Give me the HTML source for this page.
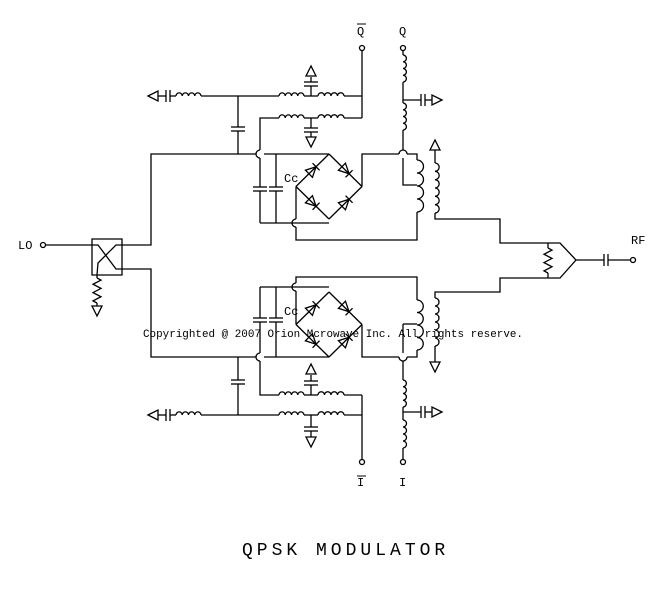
<!DOCTYPE html>
<html><head><meta charset="utf-8"><style>
html,body{margin:0;padding:0;background:#fff;width:653px;height:598px;overflow:hidden}
svg{display:block}
text{font-family:"Liberation Mono",monospace;fill:#000}
</style></head><body>
<svg id="s" width="653" height="598" viewBox="0 0 653 598" xmlns="http://www.w3.org/2000/svg">
<g id="w" stroke="#000" stroke-width="1.3" fill="none"></g>
<text x="357" y="35" font-size="12">Q</text>
<line x1="357" y1="24" x2="366" y2="24" stroke="#000" stroke-width="1"/>
<text x="399" y="35" font-size="12">Q</text>
<text x="357" y="486" font-size="12">I</text>
<line x1="357" y1="476" x2="366" y2="476" stroke="#000" stroke-width="1"/>
<text x="399" y="486" font-size="12">I</text>
<text x="18" y="249" font-size="12">LO</text>
<text x="631" y="244" font-size="12">RF</text>
<text x="284" y="182" font-size="12">Cc</text>
<text x="284" y="315" font-size="12">Cc</text>
<text x="143" y="337" font-size="11" textLength="380" lengthAdjust="spacingAndGlyphs">Copyrighted @ 2007 Orion Mcrowave Inc. All rights reserve.</text>
<text x="242" y="555" font-size="18" letter-spacing="4">QPSK MODULATOR</text>
</svg>
<script>
var g=document.getElementById('w'),NS='http://www.w3.org/2000/svg';
function P(d){var p=document.createElementNS(NS,'path');p.setAttribute('d',d);g.appendChild(p);}
function L(){var a=arguments,d='M'+a[0]+' '+a[1];for(var i=2;i<a.length;i+=2)d+=' L'+a[i]+' '+a[i+1];P(d);}
function C(x,y){var c=document.createElementNS(NS,'circle');c.setAttribute('cx',x);c.setAttribute('cy',y);c.setAttribute('r',2.5);g.appendChild(c);}
function indH(x1,x2,y){var n=4,w=(x2-x1)/n,d='M'+x1+' '+y;for(var i=0;i<n;i++)d+=' a'+w/2+' '+w/2+' 0 0 1 '+w+' 0';P(d);}
function indV(x,y1,y2,n){n=n||4;var h=(y2-y1)/n,d='M'+x+' '+y1;for(var i=0;i<n;i++)d+=' a'+h/2+' '+h/2+' 0 0 1 0 '+h;P(d);}
function capOnH(x,y){L(x-2,y-6,x-2,y+6);L(x+2,y-6,x+2,y+6);}
function capOnV(x,y){L(x-7,y-2,x+7,y-2);L(x-7,y+2,x+7,y+2);}
function gnd(x,y,dir){
 if(dir=='l')P('M'+x+' '+y+' L'+(x+10)+' '+(y-5)+' L'+(x+10)+' '+(y+5)+' Z');
 if(dir=='r')P('M'+x+' '+y+' L'+(x-10)+' '+(y-5)+' L'+(x-10)+' '+(y+5)+' Z');
 if(dir=='u')P('M'+x+' '+y+' L'+(x-5)+' '+(y+10)+' L'+(x+5)+' '+(y+10)+' Z');
 if(dir=='d')P('M'+x+' '+y+' L'+(x-5)+' '+(y-10)+' L'+(x+5)+' '+(y-10)+' Z');
}
function hopV(x,y){P('M'+x+' '+(y-4)+' a4 4 0 0 0 0 8');}
function diode(x1,y1,x2,y2){var mx=(x1+x2)/2,my=(y1+y2)/2,dx=x2-x1,dy=y2-y1,l=Math.hypot(dx,dy),ux=dx/l,uy=dy/l,px=-uy,py=ux,s=5;
 L(x1,y1,x2,y2);
 var bx=mx-ux*s,by=my-uy*s,tx=mx+ux*s,ty=my+uy*s;
 P('M'+(bx+px*s)+' '+(by+py*s)+' L'+(bx-px*s)+' '+(by-py*s)+' L'+tx+' '+ty+' Z');
 L(tx+px*s,ty+py*s,tx-px*s,ty-py*s);}
function res(x,y1,y2){var n=6,h=(y2-y1)/n,d='M'+x+' '+y1;for(var i=0;i<n;i++)d+=' L'+(x+(i%2?-4:4))+' '+(y1+h*(i+0.5));d+=' L'+x+' '+y2;P(d);}

C(43,245);L(46,245,92,245);
P('M92 239 L122 239 L122 275 L92 275 Z');
L(92,245,98,245,116,269,122,269);L(122,245,116,245,98,263,97,275);
res(97,278,303);L(97,275,97,278);L(97,303,97,306);gnd(97,316,'d');
L(122,245,151,245,151,154,256,154);L(264,154,329,154);
L(122,269,151,269,151,357,256,357);L(264,357,329,357);

function half(top){
 var T=top?154:292,B=top?219:357;
 var cy=(T+B)/2;
 diode(296,cy,329,T);diode(329,T,362,cy);diode(296,cy,329,B);diode(329,B,362,cy);
 var ca=top?158:287, cb=top?223:353, cm=top?189:320;
 [260,276].forEach(function(x){L(x,ca,x,cm-2);L(x,cm+2,x,cb);capOnV(x,cm);});
 if(top){L(276,154,276,158);L(260,223,329,223);}else{L(276,353,276,357);L(260,287,329,287);}
 if(top){L(296,cy,296,219);hopV(296,223);L(296,227,296,240,417,240,417,212);}
 else{L(296,cy,296,291);hopV(296,287);L(296,283,296,277,417,277,417,300);}
 if(top){L(362,cy,362,154,399,154);L(407,154,417,154,417,160);P('M399 154 a4 4 0 0 1 8 0');}
 else{L(362,cy,362,357,399,357);L(407,357,417,357,417,350);P('M399 357 a4 4 0 0 0 8 0');}
 if(top){indV(417,160,212,4);}else{indV(417,300,350,4);}
 if(top){L(238,96,238,127);capOnV(238,129);L(238,131,238,154);}
 else{L(238,357,238,380);capOnV(238,382);L(238,384,238,415);}
 var r1=top?96:415, r2=top?118:395;
 gnd(148,r1,'l');L(158,r1,166,r1);L(166,r1-6,166,r1+6);L(170,r1-6,170,r1+6);L(170,r1,176,r1);
 indH(176,201,r1);L(201,r1,279,r1);indH(279,304,r1);L(304,r1,318,r1);indH(318,344,r1);L(344,r1,362,r1);
 if(top){L(311,96,311,86);capOnV(311,84);L(311,82,311,77);gnd(311,66,'u');}
 else{L(311,415,311,427);capOnV(311,429);L(311,431,311,437);gnd(311,447,'d');}
 if(top){L(260,150,260,118,279,118);hopV(260,154);}
 else{L(260,361,260,395,279,395);hopV(260,357);}
 indH(279,304,r2);L(304,r2,318,r2);indH(318,344,r2);L(344,r2,362,r2);
 if(top){L(311,118,311,128);capOnV(311,130);L(311,132,311,137);gnd(311,147,'d');}
 else{L(311,395,311,385);capOnV(311,383);L(311,381,311,375);gnd(311,364,'u');}
 if(top){C(362,48);L(362,51,362,118);}else{C(362,462);L(362,395,362,459);}
 if(top){C(403,48);L(403,51,403,55);indV(403,55,82,4);L(403,82,403,103);L(403,100,421,100);capOnH(423,100);L(425,100,432,100);gnd(442,100,'r');
   indV(403,103,130,4);L(403,130,403,150);L(403,158,403,185,417,185);}
 else{C(403,462);L(403,324,417,324);L(403,324,403,353);L(403,361,403,380);indV(403,380,407,4);L(403,407,403,420);L(403,412,421,412);capOnH(423,412);L(425,412,432,412);gnd(442,412,'r');
   indV(403,420,448,4);L(403,448,403,459);}
}
half(true);half(false);

gnd(435,140,'u');L(435,150,435,163);indV(435,163,213,6);L(435,213,435,219,500,219,500,243,548,243);
L(548,278,500,278,500,292,435,292,435,298);indV(435,298,346,6);L(435,346,435,362);gnd(435,372,'d');
L(548,243,548,248);res(548,248,273);L(548,273,548,278);
L(548,243,560,243,576,260,560,278,548,278);
L(576,260,604,260);capOnH(606,260);L(608,260,630,260);C(633,260);
</script>
</body></html>
